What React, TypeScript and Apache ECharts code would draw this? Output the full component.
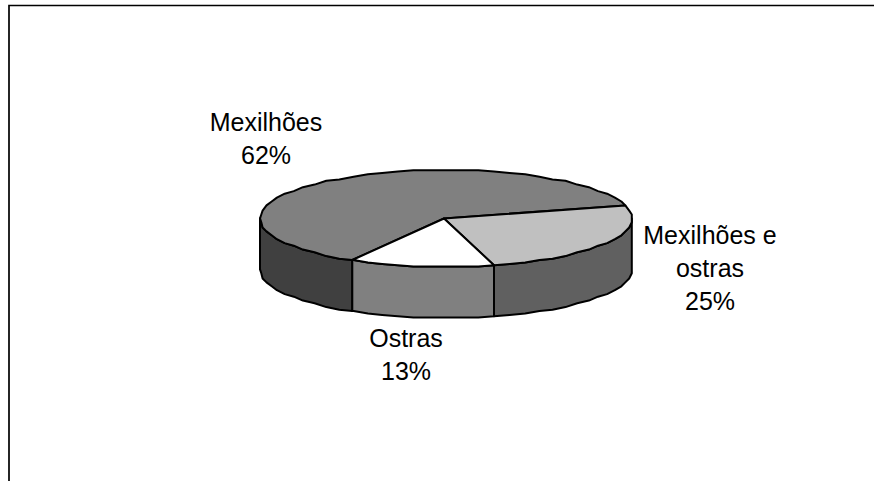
import React, { useEffect, useRef } from "react";
import * as echarts from "echarts";

const categories = ["Mexilhões", "Mexilhões e ostras", "Ostras"];
const labelNames = [["Mexilhões"], ["Mexilhões e", "ostras"], ["Ostras"]];
const values = [62.4, 25, 12.6];
const topColors = ["#808080", "#c0c0c0", "#ffffff"];
const sideColors = ["#404040", "#606060", "#808080"];

const CX = 446, CY = 218.5, RX = 186, RY = 48.5, DEPTH = 51;
const START_DEG = 120.4;
const STEP = 5;
const GRID = 1.3;
const labelAnchors = [[266, 122], [710, 235], [406, 338]];
const LINE_H = 33;

const total = values.reduce((a, b) => a + b, 0);
const snap = (v: number) => Math.round(v / GRID) * GRID;
const pt = (deg: number, dy = 0): number[] => {
  const r = (deg * Math.PI) / 180;
  return [snap(CX + RX * Math.cos(r)), snap(CY + RY * Math.sin(r)) + dy];
};
const arc = (a: number, b: number, dy = 0): number[][] => {
  const out: number[][] = [];
  const first = Math.ceil(a / STEP) * STEP;
  out.push(pt(a, dy));
  for (let d = first; d < b; d += STEP) if (d > a) out.push(pt(d, dy));
  out.push(pt(b, dy));
  return out;
};

const renderItem = (params: any, api: any) => {
  const i = params.dataIndex;
  let before = 0;
  for (let k = 0; k < i; k++) before += values[k];
  const a0 = START_DEG + (before / total) * 360;
  const a1 = a0 + (api.value(0) / total) * 360;
  const children: any[] = [];
  const line = { stroke: "#000", lineWidth: 2, lineJoin: "round" };
  for (const shift of [0, 360]) {
    const s = Math.max(a0, shift);
    const e = Math.min(a1, shift + 180);
    if (e > s) {
      const upper = arc(s, e);
      const lower = arc(s, e, DEPTH).reverse();
      children.push({
        type: "polygon",
        shape: { points: upper.concat(lower) },
        style: { fill: sideColors[i], ...line },
      });
    }
  }
  children.push({
    type: "polygon",
    shape: { points: [[CX - 2, CY]].concat(arc(a0, a1)) },
    style: { fill: topColors[i], ...line },
  });
  const lines = [...labelNames[i], `${Math.round(api.value(0))}%`];
  lines.forEach((t, k) => {
    children.push({
      type: "text",
      x: labelAnchors[i][0],
      y: labelAnchors[i][1] + k * LINE_H,
      style: {
        text: t,
        fill: "#000",
        font: '25px "Liberation Sans", Arial, sans-serif',
        textAlign: "center",
        textVerticalAlign: "middle",
      },
    });
  });
  return { type: "group", children };
};

export default function App() {
  const ref = useRef<HTMLDivElement>(null);
  useEffect(() => {
    const chart = echarts.init(ref.current!, undefined, { renderer: "svg" });
    chart.setOption({
      animation: false,
      backgroundColor: "#fff",
      graphic: [
        {
          type: "polyline",
          shape: { points: [[9, 481], [9, 5.5], [874, 5.5]] },
          style: { stroke: "#000", lineWidth: 1.7, fill: "none" },
        },
      ],
      series: [
        {
          type: "custom",
          coordinateSystem: "none",
          renderItem,
          data: values.map((v, i) => ({ name: categories[i], value: [v] })),
        },
      ],
    });
    return () => chart.dispose();
  }, []);
  return <div ref={ref} style={{ position: "fixed", left: 0, top: 0, width: 874, height: 481 }} />;
}
